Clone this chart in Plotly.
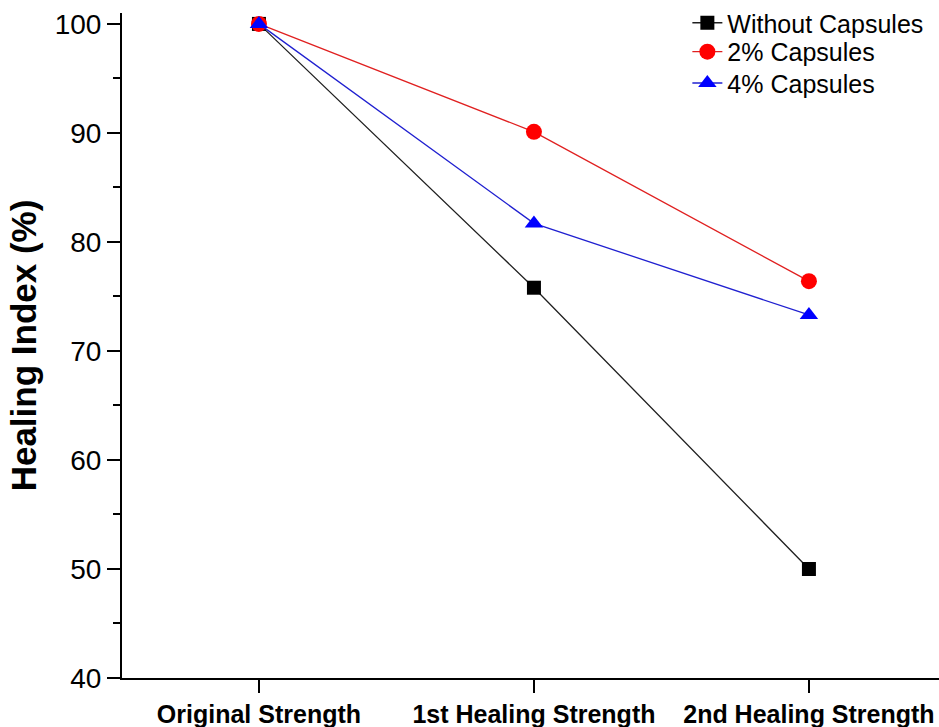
import plotly.graph_objects as go

categories = ["Original Strength", "1st Healing Strength", "2nd Healing Strength"]
x_pos = [0, 1, 2]
without_caps = [100, 75.8, 50.0]
caps_2 = [100, 90.1, 76.4]
caps_4 = [100, 81.7, 73.3]

fig = go.Figure()
fig.add_trace(go.Scatter(x=x_pos, y=without_caps, name="Without Capsules", mode="lines+markers",
                         line=dict(color="#202020", width=1.3), legend="legend",
                         marker=dict(symbol="square", size=14, color="black"), cliponaxis=False))
fig.add_trace(go.Scatter(x=x_pos, y=caps_2, name="2% Capsules", mode="lines+markers",
                         line=dict(color="#E02020", width=1.3), legend="legend2",
                         marker=dict(symbol="circle", size=16, color="#FF0000"), cliponaxis=False))
fig.add_trace(go.Scatter(x=x_pos, y=caps_4, name="4% Capsules", mode="lines+markers",
                         line=dict(color="#2020D0", width=1.3), legend="legend3",
                         marker=dict(symbol="triangle-up", size=16, color="#0000FF"), cliponaxis=False))

leg_common = dict(x=0.692, xanchor="left", yanchor="middle", bgcolor="rgba(0,0,0,0)",
                  font=dict(size=25, family="Liberation Sans, Arial"))
fig.update_layout(
    width=939, height=727,
    margin=dict(l=122, r=0, t=12, b=49),
    plot_bgcolor="white", paper_bgcolor="white",
    font=dict(family="Liberation Sans, Arial", color="black"),
    showlegend=True,
    legend=dict(y=0.985, **leg_common),
    legend2=dict(y=0.940, **leg_common),
    legend3=dict(y=0.893, **leg_common),
)
fig.update_xaxes(
    range=[-0.498, 2.473], tickmode="array", tickvals=x_pos, ticktext=categories,
    showgrid=False, zeroline=False, showline=True, linecolor="black", linewidth=2,
    ticks="outside", ticklen=13, tickwidth=2, tickcolor="black",
    tickfont=dict(size=25, family="Liberation Sans, Arial", weight="bold"),
)
fig.update_yaxes(
    range=[40, 101], tickmode="array", tickvals=[40, 50, 60, 70, 80, 90, 100],
    showgrid=False, zeroline=False, showline=True, linecolor="black", linewidth=2,
    ticks="outside", ticklen=13, tickwidth=2, tickcolor="black",
    tickfont=dict(size=28, family="Liberation Sans, Arial"),
    minor=dict(tickmode="array", tickvals=[45, 55, 65, 75, 85, 95], ticks="outside", ticklen=7, tickwidth=2, tickcolor="black"),
    title=dict(text="Healing Index (%)", standoff=7,
               font=dict(size=35, family="Liberation Sans, Arial", weight="bold")),
)

fig.write_html("out.html", config={"displayModeBar": False},
               post_script="document.body.style.margin='0px';")
